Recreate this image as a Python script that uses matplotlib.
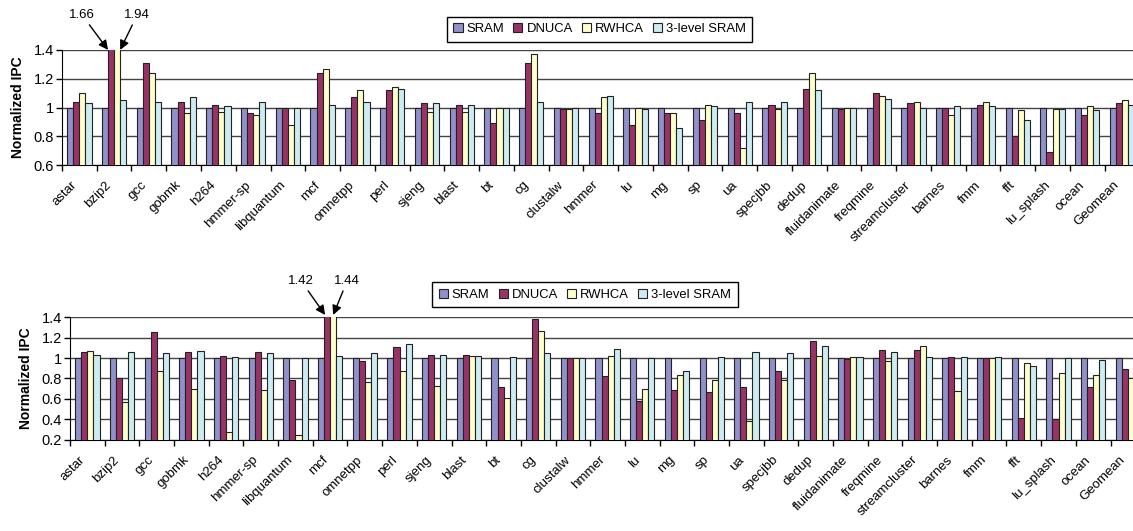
import numpy as np
import matplotlib
matplotlib.use("Agg")
import matplotlib.pyplot as plt
from matplotlib.ticker import FormatStrFormatter, FixedLocator

plt.rcParams['font.family'] = ['Liberation Sans', 'DejaVu Sans']

benchmarks = ['astar', 'bzip2', 'gcc', 'gobmk', 'h264', 'hmmer-sp', 'libquantum', 'mcf',
              'omnetpp', 'perl', 'sjeng', 'blast', 'bt', 'cg', 'clustalw', 'hmmer', 'lu',
              'mg', 'sp', 'ua', 'specjbb', 'dedup', 'fluidanimate', 'freqmine',
              'streamcluster', 'barnes', 'fmm', 'fft', 'lu_splash', 'ocean', 'Geomean']
series = ['SRAM', 'DNUCA', 'RWHCA', '3-level SRAM']
colors = ['#9090CA', '#993366', '#FFFFCC', '#CCECF2']

# top chart
sram_a = [1.0, 1.0, 1.0, 1.0, 1.0, 1.0, 1.0, 1.0, 1.0, 1.0, 1.0, 1.0, 1.0, 1.0, 1.0, 1.0,
          1.0, 1.0, 1.0, 1.0, 1.0, 1.0, 1.0, 1.0, 1.0, 1.0, 1.0, 1.0, 1.0, 1.0, 1.0]
dnuca_a = [1.04, 1.66, 1.31, 1.04, 1.02, 0.96, 1.00, 1.24, 1.07, 1.12, 1.03, 1.02, 0.89, 1.31, 0.99, 0.96,
           0.88, 0.96, 0.91, 0.96, 1.02, 1.13, 0.99, 1.10, 1.03, 1.00, 1.02, 0.80, 0.69, 0.95, 1.03]
rwhca_a = [1.10, 1.94, 1.24, 0.96, 0.97, 0.95, 0.88, 1.27, 1.12, 1.14, 0.97, 0.97, 1.00, 1.37, 0.99, 1.07,
           1.00, 0.96, 1.02, 0.72, 0.99, 1.24, 1.00, 1.08, 1.04, 0.95, 1.04, 0.98, 0.99, 1.01, 1.05]
lvl3_a = [1.03, 1.05, 1.04, 1.07, 1.01, 1.04, 1.00, 1.02, 1.04, 1.13, 1.03, 1.02, 1.00, 1.04, 1.00, 1.08,
          0.99, 0.86, 1.01, 1.04, 1.04, 1.12, 1.00, 1.06, 1.00, 1.01, 1.01, 0.91, 0.99, 0.98, 1.02]

# bottom chart
sram_b = [1.0, 1.0, 1.0, 1.0, 1.0, 1.0, 1.0, 1.0, 1.0, 1.0, 1.0, 1.0, 1.0, 1.0, 1.0, 1.0,
          1.0, 1.0, 1.0, 1.0, 1.0, 1.0, 1.0, 1.0, 1.0, 1.0, 1.0, 1.0, 1.0, 1.0, 1.0]
dnuca_b = [1.06, 0.80, 1.25, 1.06, 1.02, 1.06, 0.79, 1.42, 0.97, 1.11, 1.03, 1.03, 0.72, 1.38, 1.00, 0.82,
           0.58, 0.69, 0.67, 0.72, 0.87, 1.17, 0.99, 1.08, 1.08, 1.01, 1.00, 0.41, 0.40, 0.72, 0.89]
rwhca_b = [1.07, 0.57, 0.87, 0.70, 0.28, 0.69, 0.25, 1.44, 0.77, 0.87, 0.73, 1.02, 0.61, 1.26, 1.00, 1.02,
           0.70, 0.83, 0.79, 0.39, 0.79, 1.02, 1.01, 0.97, 1.12, 0.68, 1.00, 0.95, 0.85, 0.83, 0.80]
lvl3_b = [1.03, 1.06, 1.05, 1.07, 1.01, 1.05, 1.00, 1.02, 1.05, 1.14, 1.03, 1.02, 1.01, 1.05, 1.00, 1.09,
          1.00, 0.87, 1.01, 1.06, 1.05, 1.12, 1.01, 1.06, 1.01, 1.01, 1.01, 0.92, 1.00, 0.98, 1.02]

fig = plt.figure(figsize=(11.33, 5.31), dpi=100)
ax1 = fig.add_axes([0.0547, 0.689, 0.951, 0.217])
ax2 = fig.add_axes([0.0618, 0.1714, 0.949, 0.2316])

x = np.arange(len(benchmarks))
w = 0.175


def draw(ax, data, ymin, ymax, step, leg_x, leg_y):
    for i, vals in enumerate(data):
        ax.bar(x + (i - 1.5) * w, vals, w, color=colors[i], edgecolor='#222222',
               linewidth=0.8, label=series[i], zorder=3)
    ax.set_xlim(-0.5, len(benchmarks) - 0.5)
    ax.set_ylim(ymin, ymax)
    ax.set_yticks(np.arange(ymin, ymax + 0.001, step))
    ax.yaxis.set_major_formatter(FormatStrFormatter('%g'))
    ax.grid(axis='y', color='#444444', linewidth=1.0, zorder=0)
    ax.set_axisbelow(True)
    for s in ['top', 'right']:
        ax.spines[s].set_visible(False)
    # labels sit a little left of the group centre, like the original
    ax.set_xticks(x - 0.25)
    ax.set_xticklabels(benchmarks, rotation=45, ha='right', rotation_mode='anchor', fontsize=9.5)
    ax.tick_params(axis='x', which='major', length=0, pad=10)
    ax.xaxis.set_minor_locator(FixedLocator(np.arange(-0.5, len(benchmarks), 1.0)))
    ax.tick_params(axis='x', which='minor', length=4, width=1.0, direction='out')
    ax.tick_params(axis='y', labelsize=10.5, length=4, width=1.0, pad=2)
    ax.set_ylabel('Normalized IPC', fontsize=10, fontweight='bold', labelpad=6)
    ax.legend(loc='lower center', bbox_to_anchor=(leg_x, leg_y), ncol=4, fontsize=9.4,
              frameon=True, fancybox=False, edgecolor='black', framealpha=1,
              handlelength=0.7, handleheight=0.7, handletextpad=0.3, columnspacing=0.7,
              borderpad=0.5, borderaxespad=0)


draw(ax1, [sram_a, dnuca_a, rwhca_a, lvl3_a], 0.6, 1.4, 0.2, 0.499, 1.07)
draw(ax2, [sram_b, dnuca_b, rwhca_b, lvl3_b], 0.2, 1.4, 0.2, 0.479, 1.08)

arrow = dict(arrowstyle='-|>', color='black', lw=1.0, mutation_scale=14, shrinkA=1, shrinkB=0)

# values of the clipped bars
ax1.annotate('1.66', xy=(1 - 1.0 * w, 1.4), xytext=(-26, 35), textcoords='offset pixels',
             ha='center', va='center', fontsize=9.5, arrowprops=arrow, annotation_clip=False)
ax1.annotate('1.94', xy=(1 + 1.0 * w, 1.4), xytext=(17, 35), textcoords='offset pixels',
             ha='center', va='center', fontsize=9.5, arrowprops=arrow, annotation_clip=False)
ax2.annotate('1.42', xy=(7 - 1.0 * w + 0.03, 1.42), xytext=(-24, 34), textcoords='offset pixels',
             ha='center', va='center', fontsize=9.5, arrowprops=arrow, annotation_clip=False)
ax2.annotate('1.44', xy=(7 + 0.5 * w, 1.42), xytext=(14, 34), textcoords='offset pixels',
             ha='center', va='center', fontsize=9.5, arrowprops=arrow, annotation_clip=False)

fig.savefig('out.png', dpi=100)
